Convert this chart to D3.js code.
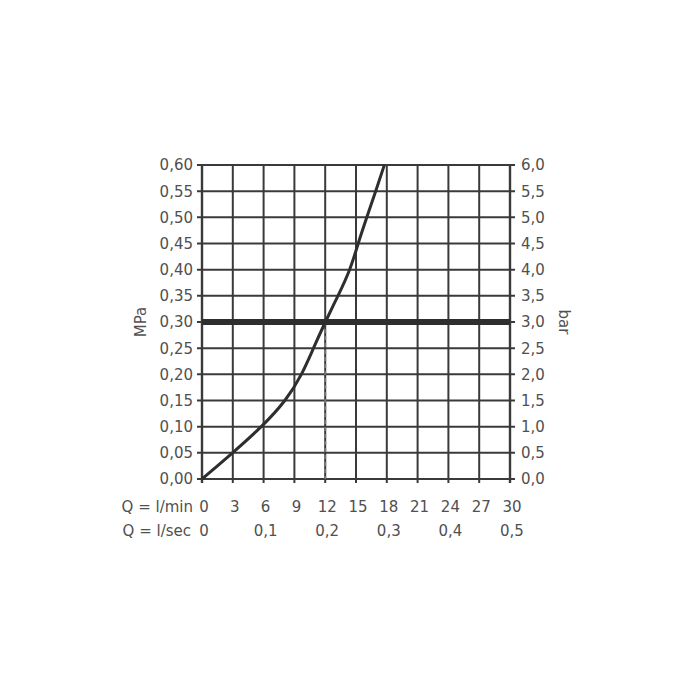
<!DOCTYPE html>
<html><head><meta charset="utf-8">
<script src="https://cdn.jsdelivr.net/npm/d3@7"></script>
<style>body{margin:0;background:#fff}svg text{font-family:"DejaVu Sans",sans-serif;fill:#505050}</style>
</head><body><svg id="c" width="700" height="700"></svg>
<script>
const flowLmin = [0, 3.0, 5.85, 8.2, 9.75, 10.85, 12, 13.25, 14.45, 15.2, 16.05, 16.92, 17.76];
const pressureMPa = [0, 0.05, 0.10, 0.15, 0.20, 0.25, 0.30, 0.35, 0.40, 0.45, 0.50, 0.55, 0.60];
const xTicksLmin = [0,3,6,9,12,15,18,21,24,27,30];
const xTicksLsec = [0,0.1,0.2,0.3,0.4,0.5];
const yTicksMPa = [0,0.05,0.10,0.15,0.20,0.25,0.30,0.35,0.40,0.45,0.50,0.55,0.60];
const yTicksBar = [0,0.5,1,1.5,2,2.5,3,3.5,4,4.5,5,5.5,6];
const refPressure = 0.30, refFlow = 12;

const svg = d3.select("#c");
const L=202,R=510,T=165,B=479;
const x = d3.scaleLinear().domain([0,30]).range([L,R]);
const y = d3.scaleLinear().domain([0,0.6]).range([B,T]);
const yBar = d3.scaleLinear().domain([0,6]).range([B,T]);
const grid="#3a3a3a";
const fmt2 = v=>v.toFixed(2).replace(".",",");
const fmt1 = v=>v.toFixed(1).replace(".",",");

// grid
svg.append("g").selectAll("line").data(xTicksLmin).join("line")
 .attr("x1",d=>x(d)).attr("x2",d=>x(d)).attr("y1",T).attr("y2",B+4)
 .attr("stroke",grid).attr("stroke-width",d=>(d===0||d===30)?2.4:2);
svg.append("g").selectAll("line").data(yTicksMPa).join("line")
 .attr("x1",L-5).attr("x2",R+5).attr("y1",d=>y(d)).attr("y2",d=>y(d))
 .attr("stroke",grid).attr("stroke-width",2);

// left labels
svg.append("g").selectAll("text").data(yTicksMPa).join("text")
 .attr("x",193).attr("y",d=>y(d)).attr("dy","0.36em").attr("text-anchor","end")
 .attr("font-size",15).text(fmt2);
// right labels
svg.append("g").selectAll("text").data(yTicksBar).join("text")
 .attr("x",521).attr("y",d=>yBar(d)).attr("dy","0.36em").attr("text-anchor","start")
 .attr("font-size",15).text(fmt1);

// bottom labels
svg.append("g").selectAll("text").data(xTicksLmin).join("text")
 .attr("x",d=>x(d)+2).attr("y",512).attr("text-anchor","middle").attr("font-size",15).text(d=>d);
svg.append("g").selectAll("text").data(xTicksLsec).join("text")
 .attr("x",d=>x(d*60)+2).attr("y",536).attr("text-anchor","middle").attr("font-size",15)
 .text(d=>d===0?"0":fmt1(d));
svg.append("text").attr("x",193).attr("y",512).attr("text-anchor","end").attr("font-size",15).text("Q = l/min");
svg.append("text").attr("x",191).attr("y",536).attr("text-anchor","end").attr("font-size",15).text("Q = l/sec");

// axis titles
svg.append("text").attr("transform","translate(146,322) rotate(-90)").attr("text-anchor","middle").attr("font-size",15).text("MPa");
svg.append("text").attr("transform","translate(559,322) rotate(90)").attr("text-anchor","middle").attr("font-size",15).text("bar");

// dashed reference
svg.append("line").attr("x1",x(refFlow)).attr("x2",x(refFlow)).attr("y1",y(refPressure)).attr("y2",B)
 .attr("stroke","#777").attr("stroke-width",2).attr("stroke-dasharray","4,3");
// thick reference line
svg.append("line").attr("x1",L).attr("x2",R).attr("y1",y(refPressure)).attr("y2",y(refPressure))
 .attr("stroke","#2e2e2e").attr("stroke-width",6);

// curve
const pts = flowLmin.map((f,i)=>[f,pressureMPa[i]]);
svg.append("path").datum(pts)
 .attr("d",d3.line().x(d=>x(d[0])).y(d=>y(d[1])).curve(d3.curveBasis))
 .attr("fill","none").attr("stroke","#2e2e2e").attr("stroke-width",3);
</script></body></html>
